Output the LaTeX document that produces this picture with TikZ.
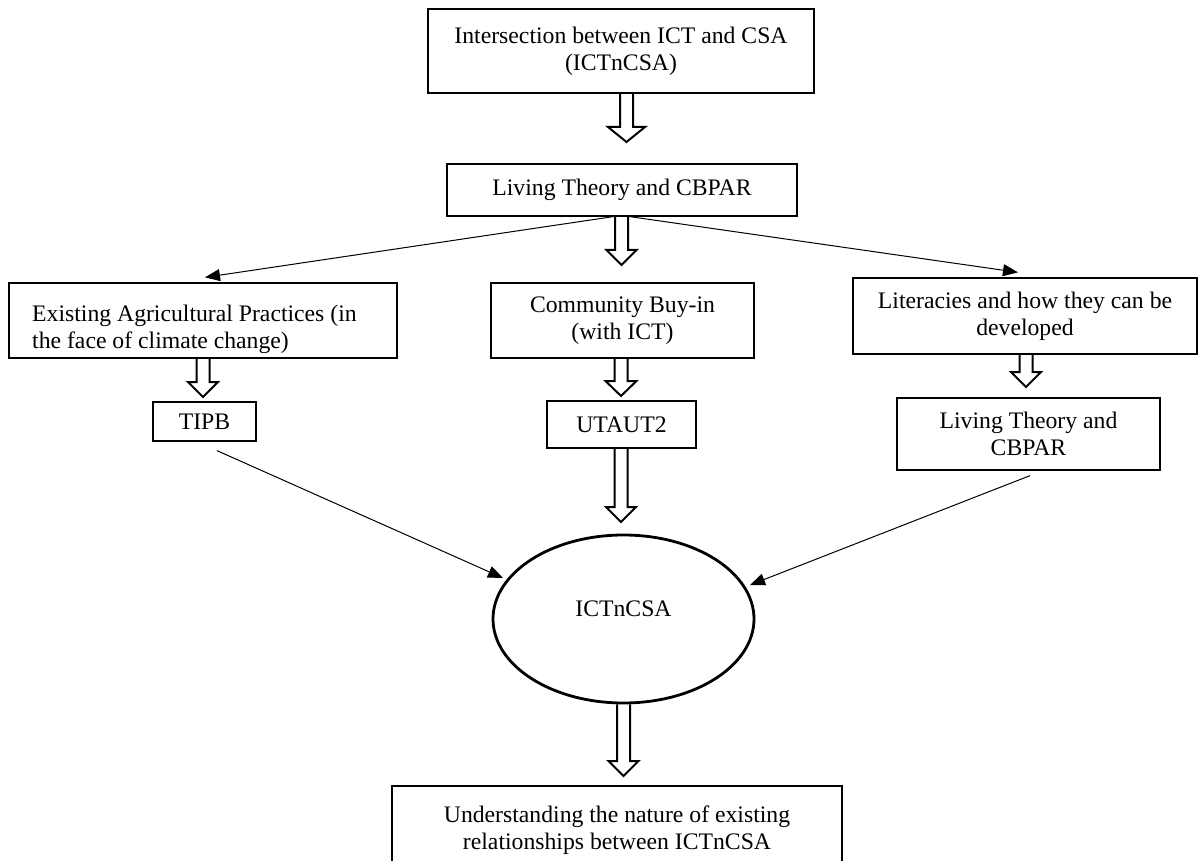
\documentclass[tikz,border=0pt]{standalone}
\usepackage{fontspec}
\setmainfont{Liberation Serif}
\usetikzlibrary{arrows.meta,calc,shapes.geometric}

% hollow block arrow from the bottom of a node down to a tip point
% #1 start anchor, #2 tip, #3 shaft half width, #4 head half width
\newcommand{\hollowarrow}[4]{%
  \draw[blockarrow] let \p1=(#1), \p2=(#2) in
    (\x2-#3pt,\y1) -- (\x2-#3pt,\y2+15pt) -- (\x2-#4pt,\y2+15pt) -- (\x2,\y2)
    -- (\x2+#4pt,\y2+15pt) -- (\x2+#3pt,\y2+15pt) -- (\x2+#3pt,\y1);}

\begin{document}
\begin{tikzpicture}[x=1pt,y=-1pt,
  txt/.style={font=\fontsize{23.7}{27}\selectfont},
  box/.style={draw, line width=1.3pt, inner sep=0pt, align=center, txt},
  plain/.style={inner sep=0pt, txt},
  oval/.style={draw, ellipse, line width=2.8pt, inner sep=0pt, txt},
  thinarrow/.style={-{Triangle[length=15pt,width=12pt]}, line width=1pt},
  blockarrow/.style={line width=2pt, line join=miter}]
\useasboundingbox (0,0) rectangle (1203,861);
\clip (0,0) rectangle (1203,861);

% boxes
\node[box, minimum width=386pt, minimum height=84pt] (top) at (621,51)
  {Intersection between ICT and CSA\\(ICTnCSA)};
\node[box, minimum width=350pt, minimum height=52pt] (liv) at (622,190)
  {Living Theory and CBPAR};
\node[box, minimum width=388pt, minimum height=75pt] (agri) at (203,320.5) {};
\node[plain, align=left, anchor=west] (agritxt) at (32,329)
  {Existing Agricultural Practices (in\\the face of climate change)};
\node[box, minimum width=263pt, minimum height=75pt] (comm) at (622.5,320.5)
  {Community Buy-in\\(with ICT)};
\node[box, minimum width=344pt, minimum height=76pt] (lit) at (1025,316)
  {Literacies and how they can be\\developed};
\node[box, minimum width=103pt, minimum height=39pt] (tipb) at (204.5,421.5) {TIPB};
\node[box, minimum width=149pt, minimum height=47pt] (utaut) at (621.5,424.5) {UTAUT2};
\node[box, minimum width=263pt, minimum height=72pt] (livr) at (1028.5,434)
  {Living Theory and\\CBPAR};
\node[oval, minimum width=261pt, minimum height=168pt, text depth=20pt] (ict) at (623.5,619)
  {ICTnCSA};
\node[box, minimum width=450pt, minimum height=88pt] (under) at (617,830)
  {Understanding the nature of existing\\relationships between ICTnCSA};

% tips of the block arrows
\coordinate (t1) at (626.5,142);
\coordinate (t2) at (621.5,265);
\coordinate (tl) at (203,397);
\coordinate (tm) at (621,396);
\coordinate (tr) at (1026,387);
\coordinate (tu) at (621,522);
\coordinate (tb) at (623.5,776);

\hollowarrow{top.south}{t1}{6.5}{18.5}
\hollowarrow{liv.south}{t2}{6.5}{15}
\hollowarrow{agri.south}{tl}{6.5}{15}
\hollowarrow{comm.south}{tm}{6.5}{15.5}
\hollowarrow{lit.south}{tr}{6.5}{15}
\hollowarrow{utaut.south}{tu}{6.5}{15}
\hollowarrow{ict.south}{tb}{6.5}{15}

% thin connectors
\coordinate (e1) at (503,578);
\coordinate (e2) at (750,585);
\draw[thinarrow] ([xshift=-9pt]liv.south) -- ([xshift=2pt,yshift=5pt]agri.north);
\draw[thinarrow] ([xshift=8pt]liv.south) -- ([xshift=-7pt,yshift=5pt]lit.north);
\draw[thinarrow] ([xshift=12.5pt,yshift=-9pt]tipb.south) -- (e1);
\draw[thinarrow] ([xshift=1.5pt,yshift=-5pt]livr.south) -- (e2);
\end{tikzpicture}
\end{document}
